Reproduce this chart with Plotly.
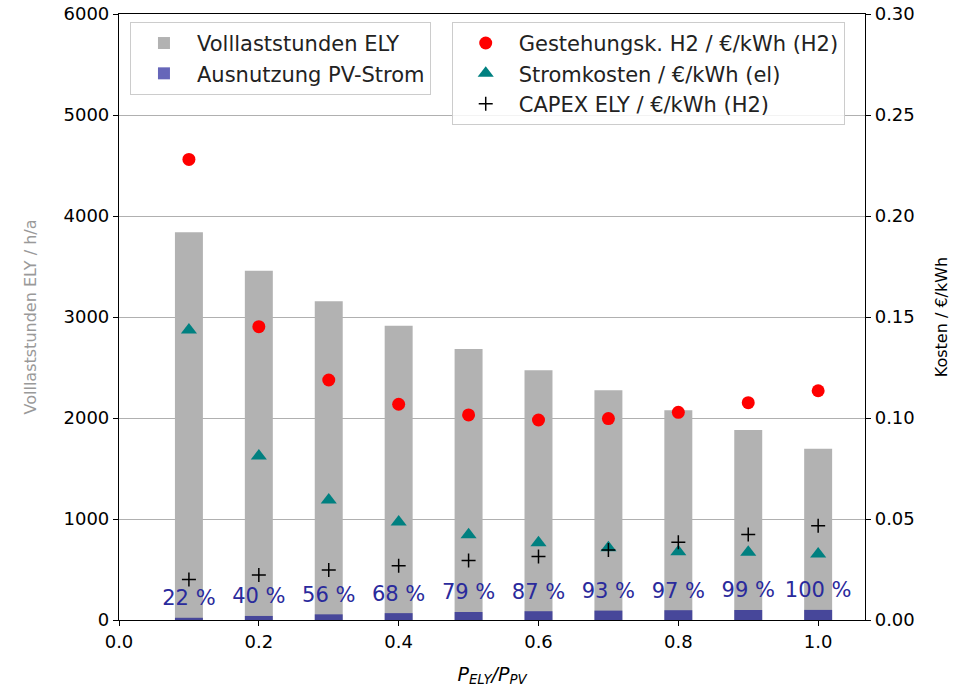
import plotly.graph_objects as go

# ---- data ----
ratio = [0.1, 0.2, 0.3, 0.4, 0.5, 0.6, 0.7, 0.8, 0.9, 1.0]
full_load_hours = [3838, 3459, 3155, 2914, 2683, 2472, 2274, 2076, 1881, 1696]
pv_utilization = [22, 40, 56, 68, 79, 87, 93, 97, 99, 100]
h2_cost = [0.228, 0.1452, 0.1188, 0.1068, 0.1015, 0.099, 0.0997, 0.1028, 0.1076, 0.1135]
power_cost = [0.1436, 0.0812, 0.0594, 0.0485, 0.0422, 0.0383, 0.0358, 0.0338, 0.0335, 0.0327]
capex_cost = [0.0201, 0.0223, 0.0248, 0.0269, 0.0294, 0.0314, 0.0347, 0.0385, 0.0423, 0.0467]
x_ticks = [0.0, 0.2, 0.4, 0.6, 0.8, 1.0]

FONT = "DejaVu Sans"
label_offset = 177

fig = go.Figure()

fig.add_trace(go.Bar(
    x=ratio, y=full_load_hours, width=0.04, name="Volllaststunden ELY",
    marker=dict(color="#b2b2b2", line=dict(width=0)), legend="legend", yaxis="y"))
fig.add_trace(go.Bar(
    x=ratio, y=pv_utilization, width=0.04, name="Ausnutzung PV-Strom",
    marker=dict(color="rgba(0,0,139,0.6)", line=dict(width=0)), legend="legend", yaxis="y"))
fig.add_trace(go.Scatter(
    x=ratio, y=[p + label_offset for p in pv_utilization], mode="text",
    text=[f"{p} %" for p in pv_utilization], textposition="middle center",
    textfont=dict(family=FONT, size=21, color="#2a2a9c"), showlegend=False,
    yaxis="y", hoverinfo="skip"))

fig.add_trace(go.Scatter(
    x=ratio, y=h2_cost, mode="markers", name="Gestehungsk. H2 / €/kWh (H2)",
    marker=dict(symbol="circle", size=13, color="#ff0000"), legend="legend2", yaxis="y2"))
fig.add_trace(go.Scatter(
    x=ratio, y=power_cost, mode="markers", name="Stromkosten / €/kWh (el)",
    marker=dict(symbol="triangle-up", size=14, color="#008080"), legend="legend2", yaxis="y2"))
fig.add_trace(go.Scatter(
    x=ratio, y=capex_cost, mode="markers", name="CAPEX ELY / €/kWh (H2)",
    marker=dict(symbol="cross-thin", size=10, color="black", line=dict(width=1.5, color="black")),
    legend="legend2", yaxis="y2"))

fig.update_layout(
    width=953, height=688,
    margin=dict(l=119, r=88, t=14, b=68),
    paper_bgcolor="white", plot_bgcolor="white",
    font=dict(family=FONT, size=18, color="black"),
    barmode="overlay",
    xaxis=dict(
        range=[0, 1.067], tickvals=x_ticks, tickformat=".1f", automargin=False,
        showline=True, linecolor="black", linewidth=1.2, mirror=True,
        ticks="outside", ticklen=5, tickcolor="black", showgrid=False, zeroline=False,
        title=dict(text="<i>P</i><sub><i>ELY</i></sub><i>/P</i><sub><i>PV</i></sub>",
                   font=dict(size=19), standoff=16),
    ),
    yaxis=dict(
        range=[0, 6000], dtick=1000, automargin=False,
        showline=True, linecolor="black", linewidth=1.2,
        ticks="outside", ticklen=5, tickcolor="black",
        showgrid=True, gridcolor="#b0b0b0", gridwidth=1, zeroline=False,
        title=dict(text="Volllaststunden ELY / h/a", font=dict(size=16, color="#999999"), standoff=22),
    ),
    yaxis2=dict(
        range=[0, 0.3], dtick=0.05, tickformat=".2f", automargin=False,
        overlaying="y", side="right",
        showline=True, linecolor="black", linewidth=1.2,
        ticks="outside", ticklen=5, tickcolor="black",
        showgrid=False, zeroline=False,
        title=dict(text="Kosten / €/kWh", font=dict(size=16, color="black"), standoff=22),
    ),
    legend=dict(
        x=0.0147, y=0.987, xanchor="left", yanchor="top", itemwidth=56,
        bgcolor="rgba(255,255,255,0.85)", bordercolor="#cccccc", borderwidth=1,
        font=dict(family=FONT, size=21, color="#222222"),
    ),
    legend2=dict(
        x=0.446, y=0.987, xanchor="left", yanchor="top", itemwidth=56,
        bgcolor="rgba(255,255,255,0.85)", bordercolor="#cccccc", borderwidth=1,
        font=dict(family=FONT, size=21, color="#222222"),
    ),
)

fig.write_html("out.html")
